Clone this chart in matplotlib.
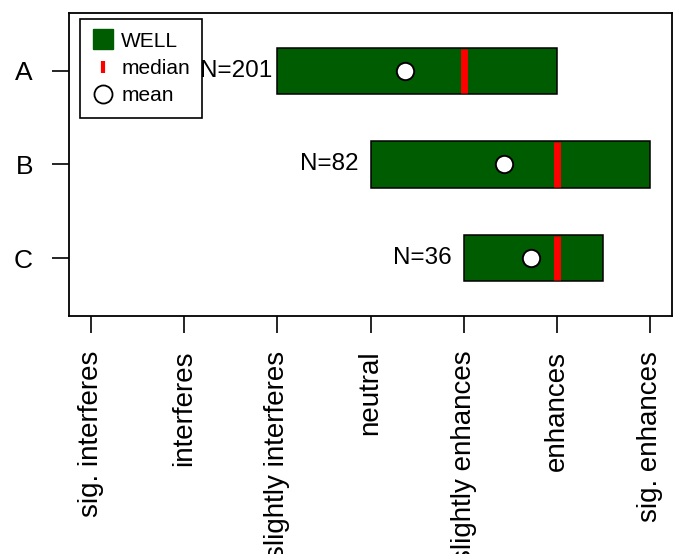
import matplotlib
matplotlib.use("Agg")
import matplotlib.pyplot as plt
from matplotlib.lines import Line2D

plt.rcParams["font.family"] = ["Liberation Sans", "DejaVu Sans"]

# Data
categories = ["A", "B", "C"]
scale_values = [-3, -2, -1, 0, 1, 2, 3]
scale_labels = ["sig. interferes", "interferes", "slightly interferes", "neutral",
                "slightly enhances", "enhances", "sig. enhances"]
range_low = [-1, 0, 1]
range_high = [2, 3, 2.5]
medians = [1, 2, 2]
means = [0.37, 1.43, 1.73]
counts = [201, 82, 36]

bar_color = "#005c00"

fig = plt.figure(figsize=(6.76, 5.54), dpi=100)
ax = fig.add_axes([69 / 676, 1 - 316 / 554, 603 / 676, 303 / 554])

ypos = list(range(1, len(categories) + 1))
bar_h = 0.5
widths = [h - l for l, h in zip(range_low, range_high)]
ax.barh(ypos, widths, left=range_low, height=bar_h, color=bar_color,
        edgecolor="black", linewidth=1.1, zorder=2)

for y, m in zip(ypos, medians):
    ax.plot([m, m], [y - bar_h / 2 * 0.96, y + bar_h / 2 * 0.96], color="red",
            lw=5, solid_capstyle="butt", zorder=3)

ax.plot(means, ypos, ls="", marker="o", ms=12.5, mfc="white", mec="black",
        mew=1.4, zorder=4)

for y, l, n in zip(ypos, range_low, counts):
    ax.text(l - 0.44, y, f"N={n}", ha="center", va="center", fontsize=17.5, zorder=5)

ax.set_xlim(-3.24, 3.24)
ax.set_ylim(3.62, 0.38)
ax.set_yticks(ypos)
ax.set_yticklabels(categories)
ax.set_xticks(scale_values)
ax.set_xticklabels(scale_labels, rotation=90, va="top")
ax.tick_params(axis="both", length=12, width=1.2, direction="out")
ax.tick_params(axis="x", pad=13, labelsize=20)
ax.tick_params(axis="y", pad=14, labelsize=19)
for sp in ax.spines.values():
    sp.set_linewidth(1.3)

handles = [
    Line2D([], [], ls="", marker="s", ms=15, mfc=bar_color, mec=bar_color),
    Line2D([], [], ls="", marker="|", ms=9, mec="red", mew=3),
    Line2D([], [], ls="", marker="o", ms=13, mfc="white", mec="black", mew=1.3),
]
leg = ax.legend(handles, ["WELL", "median", "mean"], loc="upper left",
                bbox_to_anchor=(0.018, 0.98), borderaxespad=0, fontsize=15,
                frameon=True, fancybox=False, edgecolor="black",
                handlelength=1.0, handletextpad=0.38, labelspacing=0.4,
                borderpad=0.6, framealpha=1)
leg.get_frame().set_linewidth(1.2)

fig.savefig("out.png", dpi=100)
